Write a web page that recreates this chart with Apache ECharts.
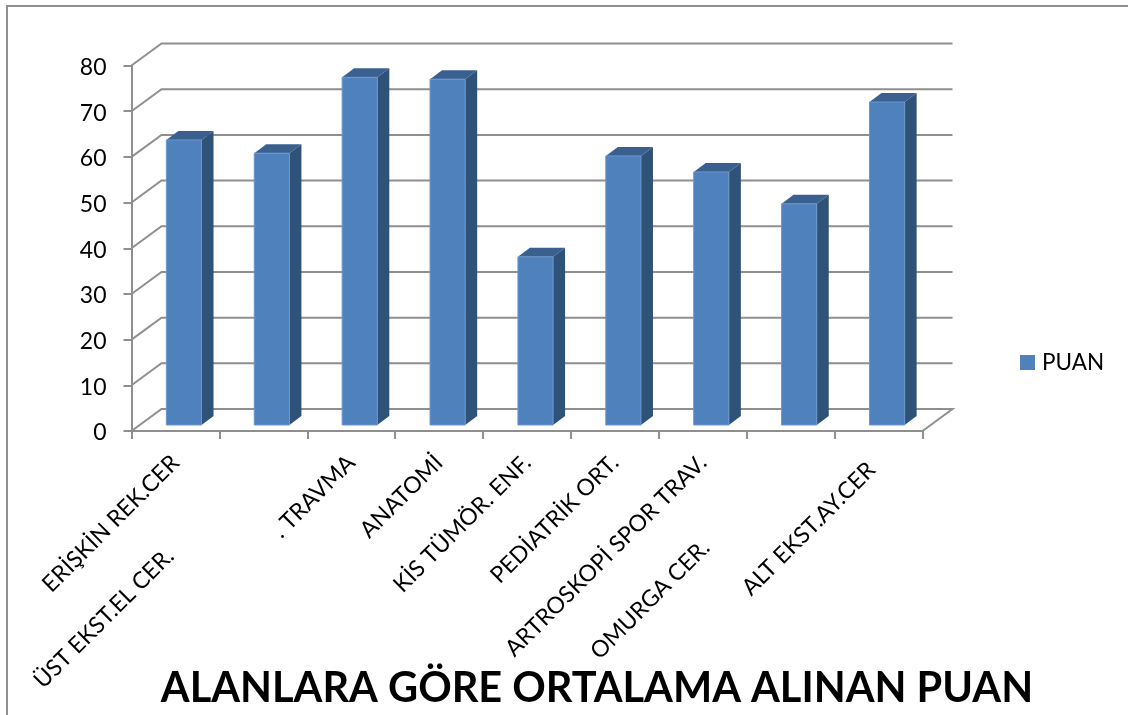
<!DOCTYPE html>
<html>
<head>
<meta charset="UTF-8">
<title>ALANLARA GÖRE ORTALAMA ALINAN PUAN</title>
<style>
html,body{margin:0;padding:0;background:#fff;overflow:hidden;}
</style>
</head>
<body>
<div id="main" style="width:1128px;height:715px;"></div>
<script src="https://cdn.jsdelivr.net/npm/echarts@6/dist/echarts.min.js"></script>
<script>
var categories = ['ERİŞKİN REK.CER', 'ÜST EKST.EL CER.', '. TRAVMA', 'ANATOMİ', 'KİS TÜMÖR. ENF.', 'PEDİATRİK ORT.', 'ARTROSKOPİ SPOR TRAV.', 'OMURGA CER.', 'ALT EKST.AY.CER'];
var puan = [62.4, 59.5, 76.1, 75.7, 36.8, 58.9, 55.4, 48.4, 70.7];
var yTicks = [0, 10, 20, 30, 40, 50, 60, 70, 80];
var seriesName = 'PUAN';
var chartTitle = 'ALANLARA GÖRE ORTALAMA ALINAN PUAN';

// label slide along the 45 degree text line (the original chart staggers them)
var labelPad = [0, 132, 0, 0, 0, 0, 0, 120, 10];

var FONT = 'Lato';
var LINE = '#8f8f8f';
var DEPTH_X = 30, DEPTH_Y = -22;    // back wall offset
var BAR_DX = 8.5, BAR_DY = -6;      // bar front sits a bit behind the axis
var SIDE_X = 12, SIDE_Y = -9;       // bar depth

function renderWall(params, api) {
	var cs = params.coordSys;
	var y = api.coord([0, api.value(1)])[1];
	var x0 = cs.x, x1 = cs.x + cs.width;
	var pts = [[x0, y], [x0 + DEPTH_X, y + DEPTH_Y], [x1 + DEPTH_X, y + DEPTH_Y]];
	if (api.value(1) === 0) pts.push([x1, y]);
	return {
		type: 'polyline',
		shape: {points: pts},
		style: {stroke: LINE, lineWidth: 2, fill: null}
	};
}

function renderBar(params, api) {
	var top = api.coord([api.value(0), api.value(1)]);
	var base = api.coord([api.value(0), 0]);
	var w = api.size([1, 0])[0] * 0.4;
	var l = top[0] + BAR_DX - w / 2, r = l + w;
	var t = top[1] + BAR_DY, b = base[1] + BAR_DY;
	return {
		type: 'group',
		children: [{
			type: 'polygon',
			shape: {points: [[r, t], [r + SIDE_X, t + SIDE_Y], [r + SIDE_X, b + SIDE_Y], [r, b]]},
			style: {fill: '#2f5279'}
		}, {
			type: 'polygon',
			shape: {points: [[l, t], [l + SIDE_X, t + SIDE_Y], [r + SIDE_X, t + SIDE_Y], [r, t]]},
			style: {fill: '#39608f'}
		}, {
			type: 'rect',
			shape: {x: l, y: t, width: w, height: b - t},
			style: {fill: '#4f81bd', stroke: '#6b97cc', lineWidth: 1}
		}]
	};
}

var myChart = echarts.init(document.getElementById('main'));
myChart.setOption({
	animation: false,
	backgroundColor: '#fff',
	textStyle: {fontFamily: FONT},
	title: {
		text: chartTitle,
		left: 592,
		top: 663,
		textAlign: 'center',
		textStyle: {fontFamily: FONT, fontWeight: 'bold', fontSize: 41.5, color: '#000'}
	},
	legend: {
		data: [{name: seriesName, icon: 'rect'}],
		left: 1020,
		top: 351,
		padding: 0,
		itemWidth: 15,
		itemHeight: 15,
		itemGap: 7,
		textStyle: {fontFamily: FONT, fontSize: 22.5, color: '#000', padding: [0, 0, 0, 2]}
	},
	graphic: [{
		type: 'rect',
		z: -10,
		shape: {x: 7, y: 6, width: 1300, height: 900},
		style: {fill: null, stroke: LINE, lineWidth: 2}
	}],
	grid: {left: 131.5, right: 205.5, top: 65.5, bottom: 284},
	xAxis: {
		type: 'category',
		data: categories.map(function (c, i) {
			return {value: c, textStyle: {padding: [0, labelPad[i], 0, 0]}};
		}),
		axisLine: {lineStyle: {color: LINE, width: 2}},
		axisTick: {show: true, length: 8, lineStyle: {color: LINE, width: 2}},
		axisLabel: {interval: 0, rotate: 45, margin: 28, fontFamily: FONT, fontSize: 23, color: '#000'}
	},
	yAxis: {
		type: 'value',
		min: 0,
		max: 80,
		interval: 10,
		splitLine: {show: false},
		axisLine: {show: true, lineStyle: {color: LINE, width: 2}},
		axisTick: {show: true, length: 8, lineStyle: {color: LINE, width: 2}},
		axisLabel: {
			margin: 25,
			formatter: '{n|{value}}',
			rich: {n: {padding: [4, 0, 0, 0], fontFamily: FONT, fontSize: 23, color: '#000'}}
		}
	},
	series: [{
		name: 'duvar',
		type: 'custom',
		renderItem: renderWall,
		clip: false,
		z: 1,
		silent: true,
		data: yTicks.map(function (v) { return [0, v]; })
	}, {
		name: seriesName,
		type: 'custom',
		renderItem: renderBar,
		clip: false,
		z: 2,
		itemStyle: {color: '#4f81bd'},
		encode: {x: 0, y: 1},
		data: puan.map(function (v, i) { return [i, v]; })
	}]
});
</script>
</body>
</html>
